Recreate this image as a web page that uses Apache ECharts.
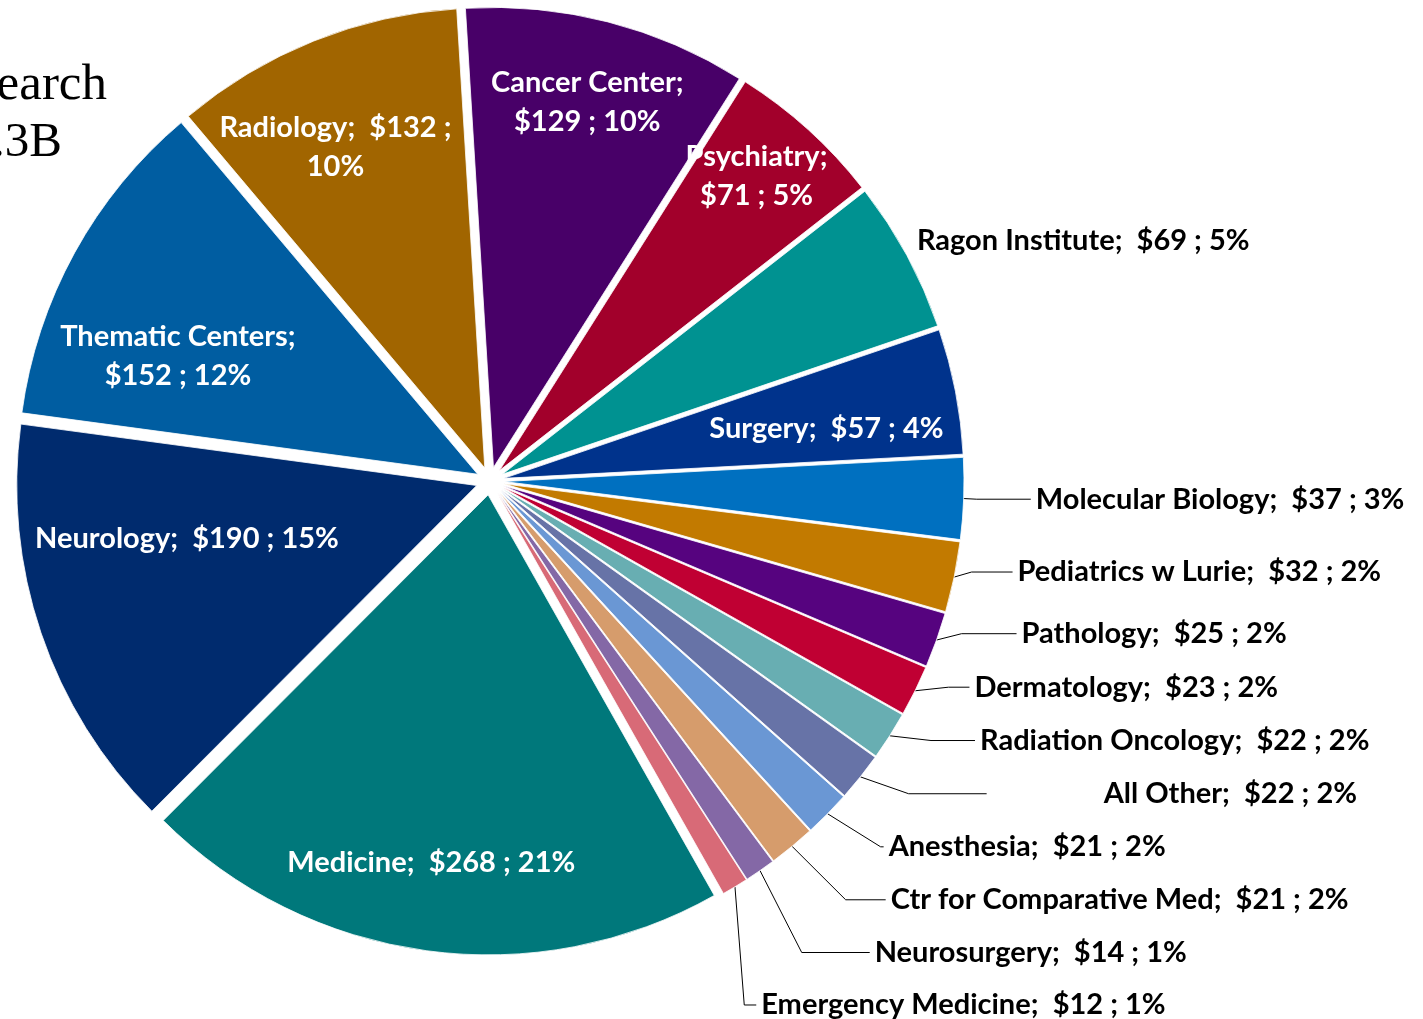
<!DOCTYPE html>
<html>
<head>
<meta charset="utf-8">
<script src="https://cdn.jsdelivr.net/npm/echarts@6/dist/echarts.min.js"></script>
<style>
html, body { margin: 0; padding: 0; background: #fff; }
#main { width: 1423px; height: 1019px; }
</style>
</head>
<body>
<div id="main"></div>
<script>
// 数据
var names = ['Cancer Center', 'Psychiatry', 'Ragon Institute', 'Surgery', 'Molecular Biology',
	'Pediatrics w Lurie', 'Pathology', 'Dermatology', 'Radiation Oncology', 'All Other',
	'Anesthesia', 'Ctr for Comparative Med', 'Neurosurgery', 'Emergency Medicine',
	'Medicine', 'Neurology', 'Thematic Centers', 'Radiology'];
var values = [129, 71, 69, 57, 37, 32, 25, 23, 22, 22, 21, 21, 14, 12, 268, 190, 152, 132];
var colors = ['#480068', '#a2002b', '#009291', '#00338c', '#0070c0',
	'#c27a00', '#56037f', '#c00033', '#68aeb2', '#6773a7',
	'#6a97d4', '#d69c6c', '#8468a6', '#d86a77',
	'#00787b', '#002b6e', '#005da1', '#a16500'];
var titleLines = ['Research', '$1.3B'];

// 标签样式: 0 外部带引导线, 1 内部单行, 2 名称后换行, 3 百分比前换行, 4 外部无引导线
var labelKind = [2, 2, 4, 1, 0, 0, 0, 0, 0, 0, 0, 0, 0, 0, 1, 1, 2, 3];
// 透明层标签: 半径比例, 角度微调
var labelDist = [0.82, 0.85, 1.035, 0.71, 0, 0, 0, 0, 0, 0, 0, 0, 0, 0, 0.81, 0.64, 0.70, 0.77];
var labelTurn = [0, -1, -1, 2, 0, 0, 0, 0, 0, 0, 0, 0, 0, 0, 1, 8, -7, -3];
// 外部标签引导线长度
var lineHead = [0, 0, 0, 0, 18, 18, 18, 18, 18, 18, 18, 18, 18, 18, 0, 0, 0, 0];
var lineTail = [0, 0, 0, 0, 54, 41, 55, 21, 44, 78, 3, 40, 68, 12, 0, 0, 0, 0];
var labelPad = {9: [0, 0, 0, 112]};

var cx = 490, cy = 481, R = 460, offset = 14, startAngle = 93.5;
var total = values.reduce(function(a, b) { return a + b; }, 0);

function labelText(i) {
	var pct = Math.round(values[i] / total * 100);
	var k = labelKind[i];
	if (k === 2) return names[i] + ';\n$' + values[i] + ' ; ' + pct + '%';
	if (k === 3) return names[i] + ';  $' + values[i] + ' ;\n' + pct + '%';
	return names[i] + ';  $' + values[i] + ' ; ' + pct + '%';
}

// 扇区 + 带引导线的外部标签
var pieData = names.map(function(n, i) {
	var outside = labelKind[i] === 0;
	return {
		name: n,
		value: values[i],
		selected: true,
		itemStyle: { color: colors[i] },
		label: { show: outside, formatter: labelText(i), padding: labelPad[i] || 0 },
		labelLine: { show: outside, length: lineHead[i], length2: lineTail[i] }
	};
});

// 其余标签 (透明层)
var labelData = names.map(function(n, i) {
	return {
		name: n,
		value: values[i],
		label: {
			show: labelKind[i] !== 0,
			color: labelKind[i] === 4 ? '#000' : '#fff',
			formatter: labelText(i)
		}
	};
});

var myChart = echarts.init(document.getElementById('main'));

var option = {
	animation: false,
	graphic: [{
		type: 'text',
		style: { text: titleLines[0], x: 107, y: 86, textAlign: 'right', textVerticalAlign: 'middle',
			font: '51px "Liberation Serif"', fill: '#000' }
	}, {
		type: 'text',
		style: { text: titleLines[1], x: 62, y: 143, textAlign: 'right', textVerticalAlign: 'middle',
			font: '49px "Liberation Serif"', fill: '#000' }
	}],
	series: [{
		type: 'pie',
		center: [cx, cy],
		radius: R,
		startAngle: startAngle,
		clockwise: true,
		selectedMode: 'multiple',
		selectedOffset: offset,
		avoidLabelOverlap: true,
		emphasis: { disabled: true },
		itemStyle: { borderColor: '#fff', borderWidth: 0.8 },
		label: {
			position: 'outside',
			color: '#000',
			fontFamily: 'Lato',
			fontWeight: 'bold',
			fontSize: 29,
			lineHeight: 50
		},
		labelLine: {
			lineStyle: { color: '#000', width: 1 }
		},
		data: pieData
	}, {
		type: 'pie',
		center: [cx, cy],
		radius: R,
		startAngle: startAngle,
		clockwise: true,
		silent: true,
		z: 5,
		emphasis: { disabled: true },
		itemStyle: { color: 'rgba(0,0,0,0)', borderWidth: 0 },
		label: {
			position: 'inside',
			fontFamily: 'Lato',
			fontWeight: 'bold',
			fontSize: 29,
			lineHeight: 39
		},
		labelLine: { show: false },
		labelLayout: function(params) {
			var i = params.dataIndex;
			if (labelKind[i] === 0) return;
			var cum = 0;
			for (var j = 0; j < i; j++) cum += values[j];
			var mid = (90 - startAngle) + (cum + values[i] / 2) / total * 360 + labelTurn[i];
			var a = mid * Math.PI / 180;
			var d = labelDist[i] * R + offset;
			return {
				x: cx + d * Math.sin(a),
				y: cy - d * Math.cos(a),
				align: labelKind[i] === 4 ? 'left' : 'center',
				verticalAlign: 'middle'
			};
		},
		data: labelData
	}]
};
myChart.setOption(option);
</script>
</body>
</html>
